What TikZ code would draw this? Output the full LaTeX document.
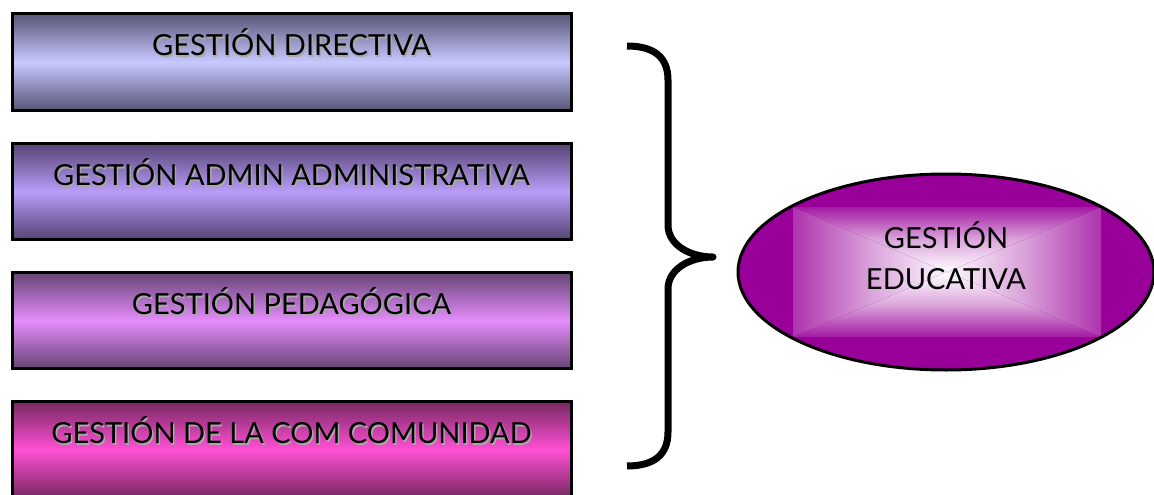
\documentclass[tikz,border=0pt]{standalone}
\usepackage{fontspec}
\setmainfont{Lato}
\usetikzlibrary{shapes.geometric,calc}
\definecolor{edupurple}{HTML}{990099}
\definecolor{shadowgray}{HTML}{A8A8A8}
\newcommand{\shtxt}[1]{\makebox[0pt][l]{\hspace{1.5pt}\raisebox{-1.5pt}{\textcolor{shadowgray}{#1}}}#1}
\tikzset{
  gbox/.style={draw=black, line width=3pt, minimum width=559pt, inner xsep=0pt, inner ysep=0pt,
    text height=42pt, text depth=54pt, font=\fontsize{29}{34}\selectfont},
  bracepath/.style={line width=7pt, line cap=butt, line join=round},
}
\begin{document}
\begin{tikzpicture}[x=1pt,y=-1pt]
\useasboundingbox (0,0) rectangle (1154,495);
\node[gbox, top color={rgb,255:red,88;green,86;blue,120}, bottom color={rgb,255:red,88;green,86;blue,120}, middle color={rgb,255:red,200;green,200;blue,255}] (b1) at (291.5,62) {\shtxt{GESTIÓN DIRECTIVA}};
\node[gbox, top color={rgb,255:red,86;green,68;blue,116}, bottom color={rgb,255:red,86;green,68;blue,116}, middle color={rgb,255:red,184;green,156;blue,248}] (b2) at (291.5,191.5) {\shtxt{GESTIÓN ADMIN ADMINISTRATIVA}};
\node[gbox, top color={rgb,255:red,102;green,68;blue,116}, bottom color={rgb,255:red,102;green,68;blue,116}, middle color={rgb,255:red,228;green,140;blue,252}] (b3) at (291.5,320.5) {\shtxt{GESTIÓN PEDAGÓGICA}};
\node[gbox, top color={rgb,255:red,118;green,40;blue,98}, bottom color={rgb,255:red,118;green,40;blue,98}, middle color={rgb,255:red,255;green,80;blue,212}] (b4) at (291.5,449.5) {\shtxt{GESTIÓN DE LA COM COMUNIDAD}};
% brace
\draw[bracepath] (627,46) .. controls (655,46) and (668,58) .. (668,80) -- (668,225)
  .. controls (668,245) and (690,257) .. (713,257)
  .. controls (690,257) and (668,269) .. (668,289) -- (668,432)
  .. controls (668,454) and (655,466) .. (627,466);
% ellipse
\node[ellipse, draw=black, line width=3pt, fill=edupurple, minimum width=416pt, minimum height=196pt, inner sep=0pt,
  align=center, font=\fontsize{29}{41}\selectfont, text height=60pt, text depth=26pt,
  path picture={
    \coordinate (c) at ($(path picture bounding box.center)+(1,0)$);
    \fill[left color=edupurple!80!white, right color=white, middle color=edupurple!35!white] ($(c)+(-154,-65)$) -- ($(c)+(-154,65)$) -- ($(c)+(6,0)$) -- cycle;
    \fill[right color=edupurple!80!white, left color=white, middle color=edupurple!35!white] ($(c)+(154,-65)$) -- ($(c)+(154,65)$) -- ($(c)+(-6,0)$) -- cycle;
    \fill[top color=edupurple!90!white, bottom color=white, middle color=edupurple!35!white] ($(c)+(-154,-65)$) -- ($(c)+(154,-65)$) -- (c) -- cycle;
    \fill[bottom color=edupurple!90!white, top color=white, middle color=edupurple!35!white] ($(c)+(-154,65)$) -- ($(c)+(154,65)$) -- (c) -- cycle;
  }] (edu) at (946,272) {GESTIÓN\\EDUCATIVA};
\end{tikzpicture}
\end{document}
